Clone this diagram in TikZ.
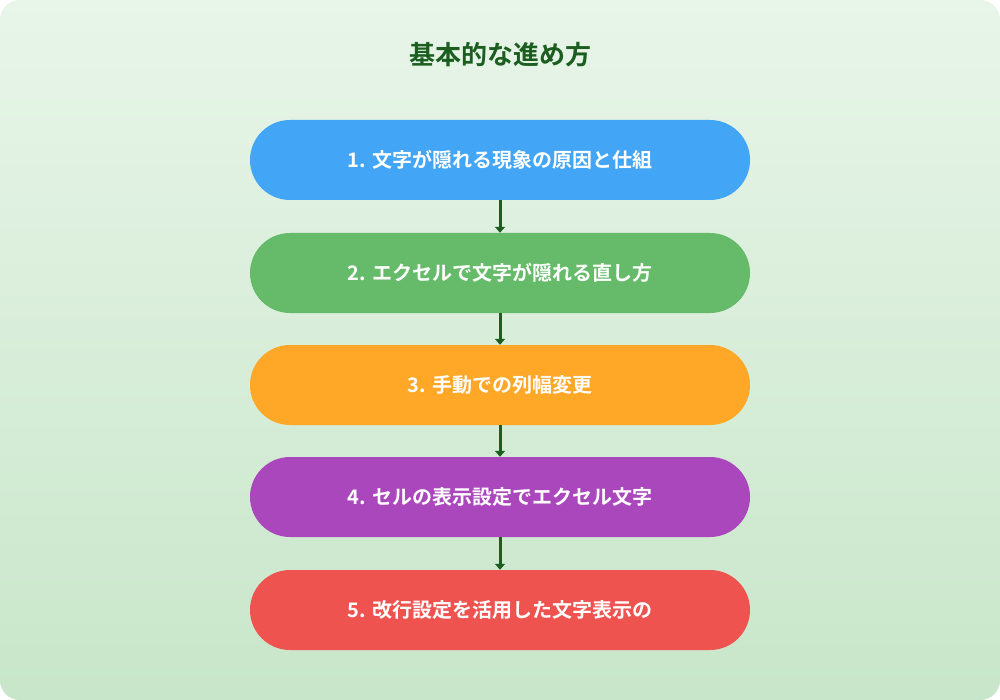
\documentclass[tikz,border=0pt]{standalone}
\usepackage{fontspec}
\newfontfamily\cjk{Noto Sans CJK JP}[BoldFont={Noto Sans CJK JP Bold}]
\usetikzlibrary{arrows.meta}
\definecolor{bgA}{HTML}{E8F5E9}
\definecolor{bgB}{HTML}{C8E6C9}
\definecolor{ttl}{HTML}{1B5E20}
\definecolor{cA}{HTML}{42A5F5}
\definecolor{cB}{HTML}{66BB6A}
\definecolor{cC}{HTML}{FFA726}
\definecolor{cD}{HTML}{AB47BC}
\definecolor{cE}{HTML}{EF5350}
\tikzset{
  stepbox/.style={rounded corners=40pt,minimum width=500pt,minimum height=80pt,text=white,font=\cjk\bfseries\fontsize{20}{24}\selectfont,inner sep=0pt},
  conn/.style={draw=ttl,line width=3pt,-{Triangle[width=10pt,length=6pt]}}
}
\begin{document}
\begin{tikzpicture}[x=1pt,y=-1pt]
\useasboundingbox (0,0) rectangle (1000,700);
\shade[left color=bgA,right color=bgB,shading angle=0,rounded corners=20pt] (0,0) rectangle (1000,700);
\shade[top color=bgA!100,bottom color=bgB,opacity=0.5,rounded corners=20pt] (0,0) rectangle (1000,700);
\node[text=ttl,font=\cjk\bfseries\fontsize{26}{30}\selectfont] (title) at (500,55) {基本的な進め方};
\node[stepbox,fill=cA] (s1) at (500,160) {1. 文字が隠れる現象の原因と仕組};
\node[stepbox,fill=cB] (s2) at (500,273) {2. エクセルで文字が隠れる直し方};
\node[stepbox,fill=cC] (s3) at (500,385) {3. 手動での列幅変更};
\node[stepbox,fill=cD] (s4) at (500,497) {4. セルの表示設定でエクセル文字};
\node[stepbox,fill=cE] (s5) at (500,610) {5. 改行設定を活用した文字表示の};
\draw[conn] (s1) -- (s2);
\draw[conn] (s2) -- (s3);
\draw[conn] (s3) -- (s4);
\draw[conn] (s4) -- (s5);
\end{tikzpicture}
\end{document}
